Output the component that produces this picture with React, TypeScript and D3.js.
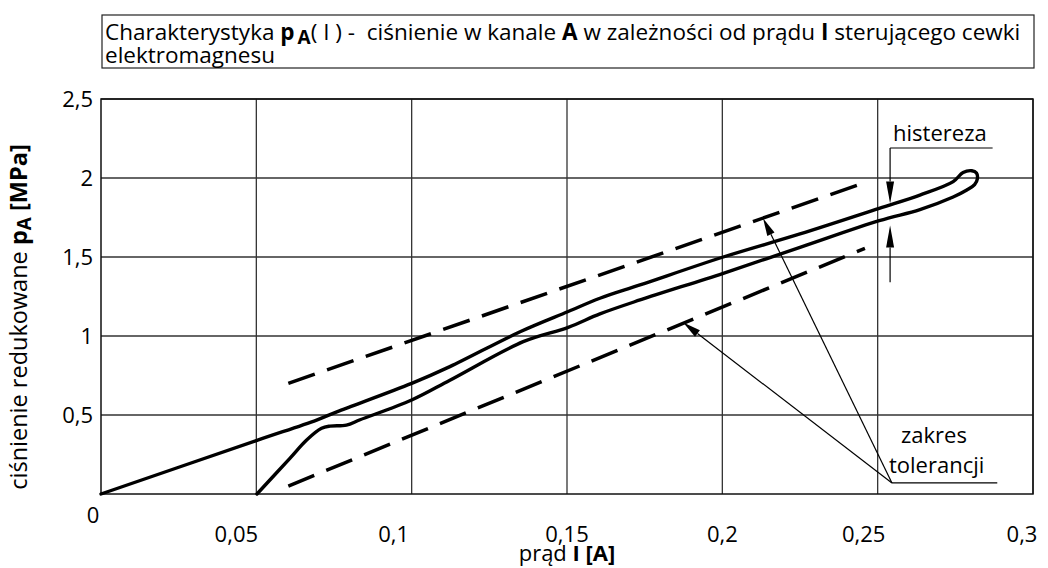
import React from "react";
import * as d3 from "d3";

// ticks
const xTicks = [0.05, 0.1, 0.15, 0.2, 0.25, 0.3];
const xTickLabels = ["0,05", "0,1", "0,15", "0,2", "0,25", "0,3"];
const xTickShift = [-20, -18, 0, 0, -14, -11]; // label offsets as drawn in the original
const yTicks = [0.5, 1, 1.5, 2, 2.5];
const yTickLabels = ["0,5", "1", "1,5", "2", "2,5"];

// hysteresis loop: rising branch (lower) -> tip -> falling branch (upper)
const lowerBranch: [number, number][] = [
  [0.0502, 0], [0.0608, 0.226], [0.0662, 0.342], [0.071, 0.416], [0.0737, 0.43],
  [0.079, 0.436], [0.0834, 0.47], [0.1, 0.595], [0.1123, 0.72], [0.1359, 0.964],
  [0.1504, 1.055], [0.1606, 1.14], [0.1735, 1.228], [0.2003, 1.397], [0.225, 1.561],
  [0.2505, 1.73], [0.2636, 1.8], [0.2743, 1.88], [0.2787, 1.924], [0.2812, 1.958],
];
const loopTip: [number, number][] = [[0.2821, 1.995], [0.2818, 2.032], [0.2803, 2.046]];
const upperBranch: [number, number][] = [
  [0.2775, 2.035], [0.2743, 1.977], [0.2636, 1.892], [0.2505, 1.808], [0.225, 1.646],
  [0.2003, 1.5], [0.1735, 1.323], [0.1606, 1.239], [0.1504, 1.155], [0.1349, 1.027],
  [0.1123, 0.806], [0.1, 0.7], [0.0759, 0.52], [0.0694, 0.468], [0.05, 0.338], [0, 0],
];

// tolerance band (dashed)
const tolUpper: [number, number][] = [[0.0603, 0.7], [0.2465, 1.975]];
const tolLower: [number, number][] = [[0.0603, 0.05], [0.2459, 1.555]];

// annotations (data units)
const tolLabelAnchor: [number, number] = [0.2546, 0.07];
const tolLabelEnd: [number, number] = [0.2885, 0.07];
const tolTargets: [number, number][] = [[0.2131, 1.746], [0.1874, 1.085]];
const hystX = 0.254;
const hystTop = 2.19;
const hystEndX = 0.287;
const hystUpperTip = 1.838;
const hystLowerTip = 1.7;
const hystLowerEnd = 1.34;

const W = 1048, H = 568;
const font = "'Open Sans', 'Noto Sans', sans-serif";
const fs = 22;

function Arrow({ x1, y1, x2, y2, len = 20, half = 4 }: any) {
  // filled arrowhead at (x2,y2), shaft from (x1,y1)
  const a = Math.atan2(y2 - y1, x2 - x1);
  const bx = x2 - len * Math.cos(a), by = y2 - len * Math.sin(a);
  const px = -Math.sin(a) * half, py = Math.cos(a) * half;
  return (
    <>
      <line x1={x1} y1={y1} x2={bx} y2={by} stroke="#000" strokeWidth={1.2} />
      <path d={`M${x2},${y2}L${bx + px},${by + py}L${bx - px},${by - py}Z`} fill="#000" />
    </>
  );
}

export default function App() {
  const x = d3.scaleLinear().domain([0, 0.3]).range([101, 1033]);
  const y = d3.scaleLinear().domain([0, 2.5]).range([494, 99]);
  const line = d3.line<[number, number]>().x(d => x(d[0])).y(d => y(d[1]));
  const curve = d3.line<[number, number]>().x(d => x(d[0])).y(d => y(d[1])).curve(d3.curveCatmullRom.alpha(0.5));
  const loop = [...lowerBranch, ...loopTip, ...upperBranch];

  const [ax, ay] = [x(tolLabelAnchor[0]), y(tolLabelAnchor[1])];

  return (
    <svg width={W} height={H} style={{ position: "absolute", left: 0, top: 0, background: "#fff" }} fontFamily={font}>
      {/* title box */}
      <rect x={102} y={15} width={932} height={53} fill="none" stroke="#222" strokeWidth={1.2} />
      <text x={105} y={40} fontSize={22.5}>
        Charakterystyka <tspan fontWeight="bold">p</tspan>
        <tspan fontWeight="bold" dx={3} dy={4} fontSize={19}>A</tspan>
        <tspan dy={-4}>( I ) -{"\u00a0 "}ciśnienie w kanale </tspan>
        <tspan fontWeight="bold">A</tspan> w zależności od prądu <tspan fontWeight="bold">I</tspan> sterującego cewki
      </text>
      <text x={105} y={63} fontSize={22.5}>elektromagnesu</text>

      {/* grid */}
      {xTicks.map(t => (
        <line key={"vx" + t} x1={x(t)} x2={x(t)} y1={y(0)} y2={y(2.5)} stroke="#333" strokeWidth={1.3} />
      ))}
      {yTicks.map(t => (
        <line key={"hy" + t} x1={x(0)} x2={x(0.3)} y1={y(t)} y2={y(t)} stroke="#333" strokeWidth={1.3} />
      ))}
      <rect x={x(0)} y={y(2.5)} width={x(0.3) - x(0)} height={y(0) - y(2.5)} fill="none" stroke="#111" strokeWidth={1.5} />

      {/* tick labels */}
      {xTicks.map((t, i) => (
        <text key={"xl" + t} x={x(t) + xTickShift[i]} y={y(0) + 48} fontSize={fs} textAnchor="middle">{xTickLabels[i]}</text>
      ))}
      {yTicks.map((t, i) => (
        <text key={"yl" + t} x={x(0) - 8} y={y(t)} dy="0.35em" fontSize={fs} textAnchor="end">{yTickLabels[i]}</text>
      ))}
      <text x={x(0) - 8} y={y(0) + 29} fontSize={fs} textAnchor="middle">0</text>

      {/* axis titles */}
      <text x={x(0.15)} y={y(0) + 67} fontSize={fs} textAnchor="middle">
        prąd <tspan fontWeight="bold">I</tspan> <tspan fontWeight="bold">[A]</tspan>
      </text>
      <text transform={`translate(27, ${y(1.12)}) rotate(-90)`} fontSize={23.5} textAnchor="middle">
        ciśnienie redukowane <tspan fontWeight="bold">p</tspan>
        <tspan fontWeight="bold" dy={4} fontSize={19}>A</tspan>
        <tspan dy={-4}> </tspan><tspan fontWeight="bold">[MPa]</tspan>
      </text>

      {/* tolerance band */}
      <path d={line(tolUpper) ?? ""} fill="none" stroke="#000" strokeWidth={3.5} strokeDasharray="28 13" />
      <path d={line(tolLower) ?? ""} fill="none" stroke="#000" strokeWidth={3.5} strokeDasharray="28 13" />

      {/* characteristic */}
      <path d={curve(loop) ?? ""} fill="none" stroke="#000" strokeWidth={3.4} strokeLinejoin="round" strokeLinecap="round" />

      {/* histereza */}
      <line x1={x(hystEndX)} y1={y(hystTop)} x2={x(hystX)} y2={y(hystTop)} stroke="#000" strokeWidth={1.2} />
      <Arrow x1={x(hystX)} y1={y(hystTop)} x2={x(hystX)} y2={y(hystUpperTip)} len={22} half={4} />
      <Arrow x1={x(hystX)} y1={y(hystLowerEnd)} x2={x(hystX)} y2={y(hystLowerTip)} len={22} half={4} />
      <text x={x(hystX) + 3} y={y(hystTop) - 7} fontSize={fs}>histereza</text>

      {/* zakres tolerancji */}
      <line x1={ax} y1={ay} x2={x(tolLabelEnd[0])} y2={y(tolLabelEnd[1])} stroke="#000" strokeWidth={1.2} />
      {tolTargets.map((p, i) => (
        <Arrow key={"ta" + i} x1={ax} y1={ay} x2={x(p[0])} y2={y(p[1])} len={18} half={4} />
      ))}
      <text x={ax + 9} y={ay - 40} fontSize={fs}>zakres</text>
      <text x={ax - 3} y={ay - 10} fontSize={fs}>tolerancji</text>
    </svg>
  );
}
